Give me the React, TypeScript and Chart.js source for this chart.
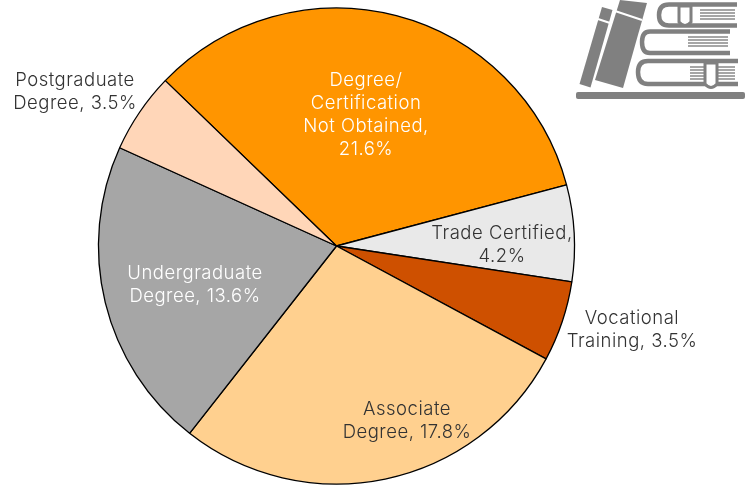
import React, { useEffect, useRef } from "react";
import { Chart, registerables } from "chart.js";

Chart.register(...registerables);

const categories = [
  "Degree/ Certification Not Obtained",
  "Trade Certified",
  "Vocational Training",
  "Associate Degree",
  "Undergraduate Degree",
  "Postgraduate Degree",
];
const shares = [21.6, 4.2, 3.5, 17.8, 13.6, 3.5];
const sliceColors = ["#FF9500", "#E9E9E9", "#CE5000", "#FFD08F", "#A6A6A6", "#FFD6B8"];
const labelLines = [
  ["Degree/", "Certification", "Not Obtained,", "21.6%"],
  ["Trade Certified,", "4.2%"],
  ["Vocational", "Training, 3.5%"],
  ["Associate", "Degree, 17.8%"],
  ["Undergraduate", "Degree, 13.6%"],
  ["Postgraduate", "Degree, 3.5%"],
];
const labelColors = ["#FFFFFF", "#333333", "#333333", "#333333", "#FFFFFF", "#333333"];

const FONT = '300 18.5px "Inter", "Open Sans", sans-serif';
const LINE = 23;
const labelCenters = [
  [366, 115],
  [502, 245],
  [632, 330],
  [407, 421],
  [195, 285],
  [75, 92],
];

const labelPlugin = {
  id: "sliceLabels",
  afterDatasetsDraw(chart: any) {
    const { ctx } = chart;
    ctx.save();
    ctx.font = FONT;
    ctx.letterSpacing = "0.5px";
    ctx.textAlign = "center";
    ctx.textBaseline = "middle";
    labelLines.forEach((lines, i) => {
      ctx.fillStyle = labelColors[i];
      const [cx, cy] = labelCenters[i];
      lines.forEach((t, j) => {
        ctx.fillText(t, cx, cy + (j - (lines.length - 1) / 2) * LINE);
      });
    });
    ctx.restore();
  },
};

function BookIcon() {
  const c = "#808080";
  return (
    <svg
      width={185}
      height={110}
      viewBox="560 0 185 110"
      style={{ position: "absolute", left: 560, top: 0 }}
    >
      <rect x={576} y={92} width={169} height={7} rx={2} fill={c} />
      <polygon points="602,7 612.5,10 590.5,87.5 579.5,84" fill={c} />
      <polygon points="620,0 647,3 623,88 595,80" fill={c} />
      <line x1={598} y1={19} x2={610} y2={23} stroke="#fff" strokeWidth={2} />
      <line x1={615} y1={11} x2={642} y2={20} stroke="#fff" strokeWidth={2} />
      <g fill="none" stroke={c} strokeWidth={4.5}>
        <path d="M737,4.5 H669 Q659,4.5 659,15 Q659,25.5 669,25.5 H737" />
        <path d="M730,31.5 H650 Q642,31.5 642,42 Q642,53 650,53 H730" />
        <path d="M738,61 H648 Q638,61 638,72 Q638,84 648,84 H738" />
      </g>
      <g stroke={c} strokeWidth={1.8} opacity={0.7}>
        <path d="M700,10 H735 M700,13 H735 M700,16 H735 M700,19 H735" />
        <path d="M688,37 H728 M688,40 H728 M688,43 H728 M688,46 H728" />
        <path d="M690,67 H735 M690,70 H735 M690,73 H735 M690,76 H735 M690,79 H735" />
      </g>
      <path d="M679,6 H691 V22 Q685,29 679,22 Z" fill="#fff" stroke={c} strokeWidth={3} />
      <path d="M705,63 H717 V84 Q711,91 705,84 Z" fill="#fff" stroke={c} strokeWidth={3} />
    </svg>
  );
}

export default function App() {
  const ref = useRef<HTMLCanvasElement>(null);
  useEffect(() => {
    const chart = new Chart(ref.current!, {
      type: "pie",
      data: {
        labels: categories,
        datasets: [
          {
            data: shares,
            backgroundColor: sliceColors,
            borderColor: "#000000",
            borderWidth: 1.3,
          },
        ],
      },
      options: {
        responsive: false,
        animation: false,
        rotation: -46,
        layout: { padding: { left: 97.8, right: 169.8, top: 7.3, bottom: 0.3 } },
        plugins: { legend: { display: false }, tooltip: { enabled: false } },
      } as any,
      plugins: [labelPlugin],
    });
    return () => chart.destroy();
  }, []);
  return (
    <div style={{ position: "absolute", left: 0, top: 0, width: 745, height: 485, background: "#fff" }}>
      <canvas ref={ref} width={745} height={485} style={{ display: "block" }} />
      <BookIcon />
    </div>
  );
}
